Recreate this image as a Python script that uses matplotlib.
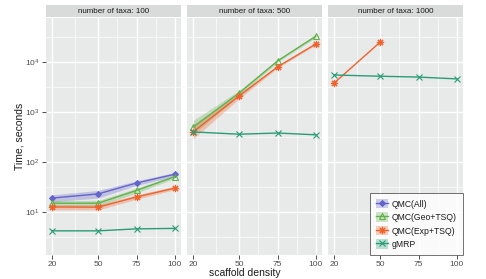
import matplotlib
matplotlib.use("Agg")
import matplotlib.pyplot as plt
import matplotlib.ticker as mticker
from matplotlib.lines import Line2D
from matplotlib.patches import Patch
import numpy as np

plt.rcParams["font.family"] = ["Liberation Sans", "DejaVu Sans"]
plt.rcParams["mathtext.fontset"] = "custom"
plt.rcParams["mathtext.rm"] = "Liberation Sans"
plt.rcParams["mathtext.it"] = "Liberation Sans:italic"

# ── data ───────────────────────────────────────────────────
taxa = [100, 500, 1000]
density = [20, 50, 75, 100]
methods = ["QMC(All)", "QMC(Geo+TSQ)", "QMC(Exp+TSQ)", "gMRP"]

qmc_all_100 = [19, 23, 38, 57]
qmc_all_100_lo = [16, 19, 34, 52]
qmc_all_100_hi = [22, 27, 42, 62]
qmc_geo_100 = [15, 15, 27, 51]
qmc_geo_100_lo = [13, 13, 24, 47]
qmc_geo_100_hi = [17, 17, 30, 55]
qmc_exp_100 = [12.6, 12.5, 20, 30]
qmc_exp_100_lo = [11, 11, 18, 28]
qmc_exp_100_hi = [14, 14, 22, 33]
gmrp_100 = [4.2, 4.2, 4.6, 4.7]

qmc_geo_500 = [500, 2400, 10500, 33000]
qmc_geo_500_lo = [360, 2100, 10000, 31000]
qmc_geo_500_hi = [680, 2700, 11000, 35000]
qmc_exp_500 = [400, 2100, 8000, 23000]
qmc_exp_500_lo = [290, 1850, 7600, 22000]
qmc_exp_500_hi = [560, 2350, 8400, 24000]
gmrp_500 = [400, 360, 380, 350]

density_exp_1000 = [20, 50]
qmc_exp_1000 = [3800, 25000]
gmrp_1000 = [5500, 5200, 5000, 4600]

COLORS = {
    "QMC(All)": "#6464cc",
    "QMC(Geo+TSQ)": "#62b14a",
    "QMC(Exp+TSQ)": "#f0622c",
    "gMRP": "#2a9d77",
}
MARKERS = {
    "QMC(All)": dict(marker="D", markersize=3.0, markerfacecolor=COLORS["QMC(All)"]),
    "QMC(Geo+TSQ)": dict(marker="^", markersize=5.0, markerfacecolor="none"),
    "QMC(Exp+TSQ)": dict(marker=(8, 2, 0), markersize=5.2),
    "gMRP": dict(marker="x", markersize=4.5),
}

panels = {
    100: [
        ("QMC(All)", density, qmc_all_100, qmc_all_100_lo, qmc_all_100_hi),
        ("QMC(Geo+TSQ)", density, qmc_geo_100, qmc_geo_100_lo, qmc_geo_100_hi),
        ("QMC(Exp+TSQ)", density, qmc_exp_100, qmc_exp_100_lo, qmc_exp_100_hi),
        ("gMRP", density, gmrp_100, None, None),
    ],
    500: [
        ("QMC(Geo+TSQ)", density, qmc_geo_500, qmc_geo_500_lo, qmc_geo_500_hi),
        ("QMC(Exp+TSQ)", density, qmc_exp_500, qmc_exp_500_lo, qmc_exp_500_hi),
        ("gMRP", density, gmrp_500, None, None),
    ],
    1000: [
        ("QMC(Exp+TSQ)", density_exp_1000, qmc_exp_1000, None, None),
        ("gMRP", density, gmrp_1000, None, None),
    ],
}

# ── layout ─────────────────────────────────────────────────
W, H = 486, 279
fig = plt.figure(figsize=(W / 100, H / 100), dpi=100)
fig.patch.set_facecolor("white")

panel_left = [46, 187, 328]
panel_w = 135
top, bottom = 18, 255

BG = "#e8e9e9"
STRIP = "#d9dada"
TICK_COL = "#4d4d4d"

axes = []
for i, n in enumerate(taxa):
    x0 = panel_left[i]
    ax = fig.add_axes([x0 / W, 1 - bottom / H, panel_w / W, (bottom - top) / H])
    ax.set_facecolor(BG)
    for s in ax.spines.values():
        s.set_visible(False)
    ax.set_yscale("log")
    ax.set_xlim(16, 104)
    ax.set_ylim(1.38, 7.6e4)
    ax.xaxis.set_major_locator(mticker.FixedLocator(density))
    ax.xaxis.set_minor_locator(mticker.FixedLocator([35, 62.5, 87.5]))
    ax.yaxis.set_major_locator(mticker.FixedLocator([10, 100, 1000, 10000]))
    ax.yaxis.set_minor_locator(mticker.FixedLocator([10 ** (k + 0.5) for k in range(0, 5)]))
    ax.yaxis.set_minor_formatter(mticker.NullFormatter())
    ax.grid(True, which="major", color="white", linewidth=1.0)
    ax.grid(True, which="minor", color="white", linewidth=0.45)
    ax.set_axisbelow(True)
    ax.tick_params(which="major", length=3, width=0.7, color=TICK_COL,
                   labelsize=6, labelcolor=TICK_COL, pad=1.5)
    ax.tick_params(which="minor", length=0)
    if i > 0:
        ax.tick_params(axis="y", which="both", left=False, labelleft=False)

    for name, xs, ys, lo, hi in panels[n]:
        c = COLORS[name]
        if lo is not None:
            ax.fill_between(xs, lo, hi, color=c, alpha=0.3, linewidth=0)
        ax.plot(xs, ys, color=c, linewidth=1.0, markeredgewidth=0.8,
                markeredgecolor=c, **MARKERS[name])

    # facet strip
    sax = fig.add_axes([x0 / W, 1 - 17 / H, panel_w / W, 12 / H])
    sax.set_facecolor(STRIP)
    sax.set_xticks([])
    sax.set_yticks([])
    for s in sax.spines.values():
        s.set_visible(False)
    sax.text(0.5, 0.45, f"number of taxa: {n}", ha="center", va="center",
             fontsize=5.8, color="#1a1a1a", transform=sax.transAxes)
    axes.append(ax)

fig.text(20 / W, 1 - 136 / H, "Time, seconds", rotation=90, ha="center",
         va="center", fontsize=7.5, color="#1a1a1a")
fig.text(245 / W, 1 - 268 / H, "scaffold density", ha="center", va="top",
         fontsize=7.5, color="#1a1a1a")

# legend: tinted key + line + marker
handles = []
for name in methods:
    c = COLORS[name]
    patch = Patch(facecolor=c, alpha=0.3, edgecolor="none")
    line = Line2D([], [], color=c, linewidth=1.0, markeredgewidth=0.8,
                  markeredgecolor=c, **MARKERS[name])
    handles.append((patch, line))
leg = axes[2].legend(handles, methods, loc="lower right", fontsize=6.2,
                     frameon=True, fancybox=False, borderaxespad=0.0,
                     handlelength=1.3, handleheight=1.3, handletextpad=0.5,
                     labelspacing=0.45, borderpad=0.7)
leg.get_frame().set_edgecolor("#333333")
leg.get_frame().set_linewidth(0.6)
leg.get_frame().set_facecolor("white")
for t in leg.get_texts():
    t.set_color("#1a1a1a")

fig.savefig("out.png", dpi=100)
